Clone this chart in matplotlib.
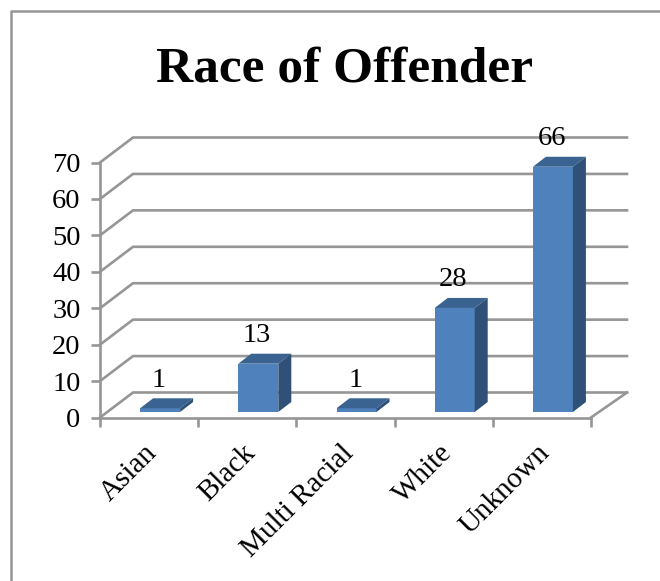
import matplotlib
matplotlib.use("Agg")
import matplotlib.pyplot as plt
from matplotlib.lines import Line2D
from matplotlib.patches import Polygon
from matplotlib.transforms import ScaledTranslation

categories = ['Asian', 'Black', 'Multi Racial', 'White', 'Unknown']
values = [1, 13, 1, 28, 66]
y_ticks = [0, 10, 20, 30, 40, 50, 60, 70]

plt.rcParams['font.family'] = ['Liberation Serif', 'DejaVu Serif']

W, H = 660, 581
GRID = '#969696'
FRONT, TOP, SIDE = '#4F81BD', '#3B6391', '#2F5077'

# one category is 98.2 px, ten units on the value axis are 36.4 px
PX_X = 98.2
PX_Y = 3.643

fig = plt.figure(figsize=(W / 100, H / 100), dpi=100)
ax = fig.add_axes([100 / W, (H - 417.5) / H, 491 / W, 255 / H])
ax.set_xlim(0, len(categories))
ax.set_ylim(0, 70)
ax.patch.set_alpha(0)

# chart frame, only top and left show up in the crop
fig.add_artist(Line2D([11 / W, 11 / W, 1], [0, (H - 11) / H, (H - 11) / H],
                      color=GRID, lw=1.8))

# back wall lines going into the depth
wall_dx = 33 / PX_X
wall_dy = 25 / PX_Y
wall_end = len(categories) + 36 / PX_X
for v in y_ticks:
    ax.plot([0, wall_dx, wall_end], [v, v + wall_dy, v + wall_dy],
            color=GRID, lw=1.9, clip_on=False, zorder=1, solid_joinstyle='miter')
ax.plot([len(categories), wall_end], [0, wall_dy],
        color=GRID, lw=1.9, clip_on=False, zorder=1)

# 3d bars
bar_w = 40 / PX_X
front_dx = 11 / PX_X
front_dy = 5.5 / PX_Y
depth_dx = 13 / PX_X
depth_dy = 10 / PX_Y
bar_scale = 1.02  # bars run slightly taller than the axis ticks

for i, v in enumerate(values):
    x0 = i + 0.5 + front_dx - bar_w / 2
    x1 = x0 + bar_w
    y0 = front_dy
    y1 = y0 + v * bar_scale
    ax.add_patch(Polygon([(x0, y0), (x1, y0), (x1, y1), (x0, y1)],
                         facecolor=FRONT, edgecolor='none', clip_on=False, zorder=3))
    ax.add_patch(Polygon([(x0, y1), (x1, y1), (x1 + depth_dx, y1 + depth_dy), (x0 + depth_dx, y1 + depth_dy)],
                         facecolor=TOP, edgecolor='none', clip_on=False, zorder=3))
    ax.add_patch(Polygon([(x1, y0), (x1 + depth_dx, y0 + depth_dy), (x1 + depth_dx, y1 + depth_dy), (x1, y1)],
                         facecolor=SIDE, edgecolor='none', clip_on=False, zorder=3))
    ax.annotate(str(v), xy=((x0 + x1) / 2, y1 + depth_dy), xytext=(-1, 13),
                textcoords='offset points', ha='center', va='center',
                fontsize=20.5, color='black', zorder=4, annotation_clip=False)

for side in ['top', 'right']:
    ax.spines[side].set_visible(False)
for side in ['left', 'bottom']:
    ax.spines[side].set_color(GRID)
    ax.spines[side].set_linewidth(1.9)

ax.set_yticks(y_ticks)
ax.tick_params(axis='y', length=6.5, width=1.9, color=GRID, labelsize=20.5, pad=7.5)

ax.set_xticks(range(len(categories) + 1))
ax.set_xticklabels([])
ax.tick_params(axis='x', which='major', length=6.5, width=1.9, color=GRID)
ax.set_xticks([i + 0.5 for i in range(len(categories))], minor=True)
ax.set_xticklabels(categories, minor=True, rotation=45, ha='right', va='top',
                   rotation_mode='anchor', fontsize=21)
ax.tick_params(axis='x', which='minor', length=0, pad=16)
# labels end a bit left of the slot centre
for lab in ax.get_xticklabels(minor=True):
    lab.set_transform(lab.get_transform() + ScaledTranslation(-5 / 100, 0, fig.dpi_scale_trans))

fig.text(344 / W, (H - 69) / H, 'Race of Offender', ha='center', va='center',
         fontsize=37, fontweight='bold')

plt.savefig('out.png', dpi=100)
